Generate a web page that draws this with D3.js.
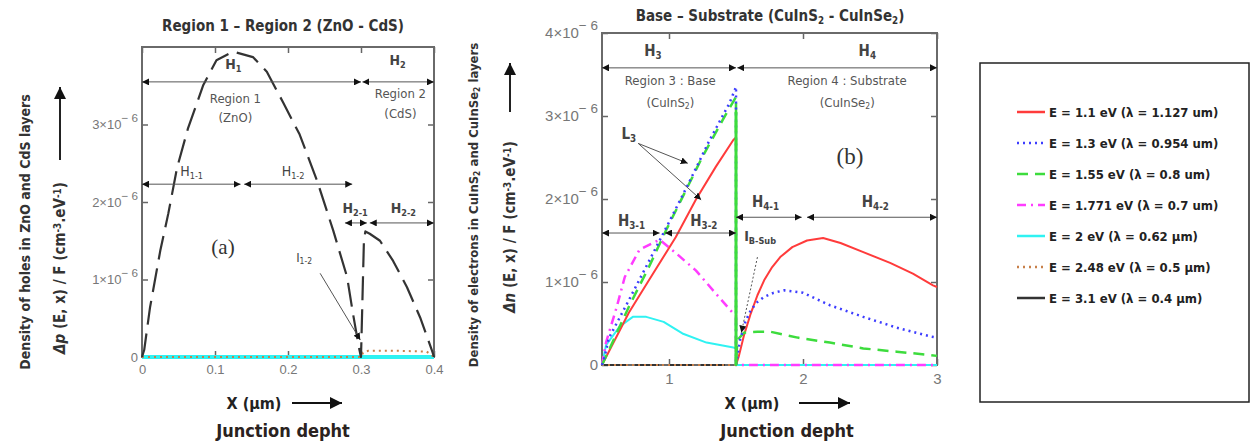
<!DOCTYPE html>
<html>
<head>
<meta charset="utf-8">
<script src="https://cdn.jsdelivr.net/npm/d3@7"></script>
<style>
  body { margin:0; background:#fff; }
  svg { display:block; }
</style>
</head>
<body>
<div id="chart"></div>
<script>
////////////////////////////////////////
// data (densities in units of 1e-6 cm^-3.eV^-1, x in um)
////////////////////////////////////////

var seriesNames = ['E = 1.1 eV (λ = 1.127 um)', 'E = 1.3 eV (λ = 0.954 um)', 'E = 1.55 eV (λ = 0.8 um)',
	'E = 1.771 eV (λ = 0.7 um)', 'E = 2 eV (λ = 0.62 µm)', 'E = 2.48 eV (λ = 0.5 µm)', 'E = 3.1 eV (λ = 0.4 µm)'];

// panel (a) ZnO - CdS
var aZeroX = [0, 0.4];
var aZeroY = [0, 0];
var aBrownX = [0, 0.300, 0.303, 0.310, 0.350, 0.390, 0.400];
var aBrownY = [0, 0, 0.06, 0.08, 0.08, 0.07, 0];
var aBlackX = [0, 0.003, 0.011, 0.025, 0.036, 0.048, 0.063, 0.084, 0.102, 0.125, 0.152, 0.171, 0.193, 0.216,
	0.240, 0.262, 0.281, 0.289, 0.297, 0.300, 0.304, 0.306, 0.312, 0.326, 0.344, 0.363, 0.381, 0.397, 0.400];
var aBlackY = [0, 0.09, 0.64, 1.37, 1.85, 2.44, 2.95, 3.51, 3.83, 3.94, 3.87, 3.68, 3.29, 2.87,
	2.27, 1.63, 1.03, 0.56, 0.13, 0, 1.50, 1.62, 1.59, 1.50, 1.24, 0.90, 0.51, 0.09, 0];

// panel (b) CuInS2 - CuInSe2
var bRedX = [0.5, 0.70, 0.85, 1.05, 1.20, 1.35, 1.48, 1.5, 1.5, 1.52, 1.56, 1.61, 1.66, 1.71, 1.77, 1.83, 1.92, 2.03, 2.15, 2.28, 2.45, 2.65, 2.82, 2.97, 3.0];
var bRedY = [0, 0.63, 1.02, 1.54, 1.99, 2.39, 2.71, 2.74, 0, 0.10, 0.36, 0.62, 0.84, 1.02, 1.18, 1.30, 1.42, 1.50, 1.53, 1.47, 1.36, 1.23, 1.10, 0.96, 0.94];
var bBlueX = [0.5, 0.52, 0.55, 0.70, 0.85, 1.00, 1.15, 1.30, 1.45, 1.5, 1.5, 1.53, 1.57, 1.61, 1.66, 1.71, 1.78, 1.86, 2.00, 2.20, 2.45, 2.70, 2.96, 3.0];
var bBlueY = [0, 0.10, 0.32, 0.78, 1.25, 1.72, 2.20, 2.70, 3.15, 3.35, 0, 0.30, 0.52, 0.66, 0.76, 0.82, 0.87, 0.90, 0.87, 0.72, 0.58, 0.45, 0.34, 0.33];
var bGreenX = [0.5, 0.70, 0.85, 0.98, 1.10, 1.25, 1.40, 1.5, 1.5, 1.51, 1.56, 1.66, 1.76, 1.96, 2.20, 2.45, 2.70, 2.95, 3.0];
var bGreenY = [0, 0.70, 1.18, 1.63, 2.02, 2.51, 2.95, 3.23, 0, 0.30, 0.39, 0.40, 0.40, 0.33, 0.27, 0.20, 0.16, 0.12, 0.11];
var bGreenStepY = [0, 3.05];
var bMagentaX = [0.5, 0.53, 0.61, 0.67, 0.78, 0.93, 1.05, 1.20, 1.35, 1.48, 1.5, 1.5, 3.0];
var bMagentaY = [0, 0.27, 0.70, 1.06, 1.39, 1.51, 1.35, 1.14, 0.86, 0.62, 0.60, 0, 0];
var bCyanX = [0.5, 0.53, 0.63, 0.73, 0.83, 0.96, 1.10, 1.28, 1.48, 1.5, 1.5, 3.0];
var bCyanY = [0, 0.24, 0.46, 0.58, 0.58, 0.52, 0.38, 0.27, 0.21, 0.20, 0, 0];
var bZeroX = [0.5, 3.0];
var bZeroY = [0, 0];

var aXTicks = [0, 0.1, 0.2, 0.3, 0.4];
var aYTicks = [0, 1, 2, 3];
var bXTicks = [1, 2, 3];
var bYTicks = [0, 1, 2, 3, 4];

////////////////////////////////////////
// styles
////////////////////////////////////////

var NARROW = "'Liberation Sans Narrow','DejaVu Sans Condensed','Arial Narrow',sans-serif";
var colors = ['#ff3b3b', '#3d3dff', '#3ddc3d', '#ff3cff', '#2ff2f2', '#c8804a', '#333333'];
var dashes = ['none', '2,4', '11,7', '9,5,2,5', 'none', '2,4', '24,9'];

var W = 1252, H = 443;
var svg = d3.select('#chart').append('svg').attr('width', W).attr('height', H)
	.style('font-family', NARROW);

var defs = svg.append('defs');
defs.append('marker').attr('id', 'arr')
	.attr('viewBox', '0 0 10 10').attr('refX', 10).attr('refY', 5)
	.attr('markerWidth', 7).attr('markerHeight', 7)
	.attr('markerUnits', 'userSpaceOnUse')
	.attr('orient', 'auto-start-reverse')
	.append('path').attr('d', 'M0,0L10,5L0,10z').attr('fill', '#111');
defs.append('marker').attr('id', 'arrBig')
	.attr('viewBox', '0 0 10 10').attr('refX', 10).attr('refY', 5)
	.attr('markerWidth', 12).attr('markerHeight', 12)
	.attr('markerUnits', 'userSpaceOnUse')
	.attr('orient', 'auto-start-reverse')
	.append('path').attr('d', 'M0,0L10,5L0,10z').attr('fill', '#111');

////////////////////////////////////////
// helpers
////////////////////////////////////////

function subText(g, x, y, parts, opt){
	// parts: [[text, 'sub'|'sup'|'it'|null], ...]
	var t = g.append('text').attr('x', x).attr('y', y)
		.attr('text-anchor', opt.anchor || 'middle')
		.attr('font-size', opt.size || 13)
		.attr('font-weight', opt.weight || 'normal')
		.attr('fill', opt.color || '#333');
	if (opt.transform) t.attr('transform', opt.transform);
	parts.forEach(function(p){
		var s = t.append('tspan').text(p[0]);
		if (p[1] == 'sub') s.attr('baseline-shift', '-30%').attr('font-size', (opt.size || 13) * 0.65);
		if (p[1] == 'sup') s.attr('baseline-shift', '45%').attr('font-size', (opt.size || 13) * 0.65);
		if (p[1] == 'it') s.attr('font-style', 'italic');
	});
	return t;
}

function makePanel(box, xDomain, yDomain, xTicks, yTicks, xFmt, tickFont){
	var x = d3.scaleLinear().domain(xDomain).range([box.x0, box.x1]);
	var y = d3.scaleLinear().domain(yDomain).range([box.y1, box.y0]);
	var g = svg.append('g');

	var axes = [
		[d3.axisBottom(x).tickValues(xTicks).tickSize(-6).tickPadding(8).tickFormat(xFmt), 'translate(0,' + box.y1 + ')', true],
		[d3.axisTop(x).tickValues(xTicks).tickSize(-6).tickFormat(''), 'translate(0,' + box.y0 + ')', false],
		[d3.axisLeft(y).tickValues(yTicks).tickSize(-6).tickPadding(4), 'translate(' + box.x0 + ',0)', true],
		[d3.axisRight(y).tickValues(yTicks).tickSize(-6).tickFormat(''), 'translate(' + box.x1 + ',0)', false]
	];
	axes.forEach(function(a, i){
		var ag = g.append('g').attr('transform', a[1]).call(a[0]);
		ag.select('.domain').remove();
		ag.selectAll('.tick line').attr('stroke', '#666').attr('stroke-width', 1.5);
		ag.selectAll('text').attr('fill', '#777').attr('font-family', "'Liberation Sans',sans-serif")
			.attr('font-size', tickFont);
		if (i == 2){
			ag.selectAll('.tick text').each(function(d){
				var t = d3.select(this);
				t.text('');
				if (d === 0){ t.text('0'); return; }
				t.append('tspan').text(d + '×10');
				t.append('tspan').attr('baseline-shift', '55%').attr('font-size', tickFont * 0.9).text('− 6');
			});
		}
	});
	g.append('rect').attr('x', box.x0).attr('y', box.y0)
		.attr('width', box.x1 - box.x0).attr('height', box.y1 - box.y0)
		.attr('fill', 'none').attr('stroke', '#6a6a6a').attr('stroke-width', 2);
	return {x: x, y: y, g: g};
}

function drawSeries(p, xs, ys, idx, width, dash){
	var pts = xs.map(function(v, i){ return [v, ys[i]]; });
	p.g.append('path').datum(pts)
		.attr('d', d3.line().x(function(d){ return p.x(d[0]); }).y(function(d){ return p.y(d[1]); }))
		.attr('fill', 'none')
		.attr('stroke', colors[idx])
		.attr('stroke-width', width || 2)
		.attr('stroke-linejoin', 'round')
		.attr('stroke-dasharray', dash || dashes[idx]);
}

function hArrow(p, xa, xb, yv){
	p.g.append('line')
		.attr('x1', p.x(xa)).attr('x2', p.x(xb)).attr('y1', p.y(yv)).attr('y2', p.y(yv))
		.attr('stroke', '#555').attr('stroke-width', 1)
		.attr('marker-start', 'url(#arr)').attr('marker-end', 'url(#arr)');
}

function pointer(p, xa, ya, xb, yb, dash){
	p.g.append('line')
		.attr('x1', p.x(xa)).attr('x2', p.x(xb)).attr('y1', p.y(ya)).attr('y2', p.y(yb))
		.attr('stroke', '#555').attr('stroke-width', 1)
		.attr('stroke-dasharray', dash || 'none')
		.attr('marker-end', 'url(#arr)');
}

function label(p, xv, yv, parts, opt){
	return subText(p.g, p.x(xv), p.y(yv), parts, opt);
}

function axisTitles(xLabelX, arrowX0, arrowX1, jx){
	subText(svg, xLabelX, 409, [['X (µm)']], {size: 16, weight: 'bold', color: '#222'});
	svg.append('line').attr('x1', arrowX0).attr('x2', arrowX1).attr('y1', 403).attr('y2', 403)
		.attr('stroke', '#111').attr('stroke-width', 2).attr('marker-end', 'url(#arrBig)');
	subText(svg, jx, 437, [['Junction depht']], {size: 18, weight: 'bold', color: '#2a2220'});
}

function yTitles(x1, c1, s1, line1, x2, c2, line2, ay0, ay1){
	subText(svg, 0, 0, line1, {size: s1, weight: 'bold', color: '#333',
		transform: 'translate(' + x1 + ',' + c1 + ') rotate(-90)'}).attr('dy', '0.35em');
	subText(svg, 0, 0, line2, {size: 15, weight: 'bold', color: '#333',
		transform: 'translate(' + x2 + ',' + c2 + ') rotate(-90)'}).attr('dy', '0.35em');
	svg.append('line').attr('x1', x2).attr('x2', x2).attr('y1', ay1).attr('y2', ay0)
		.attr('stroke', '#222').attr('stroke-width', 2).attr('marker-end', 'url(#arrBig)');
}

////////////////////////////////////////
// panel (a)
////////////////////////////////////////

var pa = makePanel({x0: 142, x1: 434, y0: 47, y1: 357}, [0, 0.4], [0, 4], aXTicks, aYTicks,
	function(d){ return d === 0 ? '0' : d3.format('.1f')(d); }, 13);

[0, 1, 2, 3].forEach(function(i){ drawSeries(pa, aZeroX, aZeroY, i, 2); });
drawSeries(pa, aZeroX, aZeroY, 4, 4);
drawSeries(pa, aBrownX, aBrownY, 5, 2);
drawSeries(pa, aBlackX, aBlackY, 6, 2.2);

subText(svg, 283, 31, [['Region 1 – Region 2 (ZnO - CdS)']], {size: 15, weight: 'bold', color: '#333'});

hArrow(pa, 0, 0.3, 3.55);
hArrow(pa, 0.302, 0.4, 3.55);
label(pa, 0.125, 3.72, [['H'], ['1', 'sub']], {size: 14, weight: 'bold', color: '#444'});
label(pa, 0.35, 3.77, [['H'], ['2', 'sub']], {size: 14, weight: 'bold', color: '#444'});
label(pa, 0.128, 3.28, [['Region 1']], {size: 13, color: '#555'});
label(pa, 0.128, 3.03, [['(ZnO)']], {size: 13, color: '#555'});
label(pa, 0.354, 3.34, [['Region 2']], {size: 13, color: '#555'});
label(pa, 0.354, 3.08, [['(CdS)']], {size: 13, color: '#555'});

hArrow(pa, 0, 0.135, 2.23);
hArrow(pa, 0.14, 0.288, 2.23);
label(pa, 0.068, 2.33, [['H'], ['1-1', 'sub']], {size: 14, color: '#444'});
label(pa, 0.207, 2.33, [['H'], ['1-2', 'sub']], {size: 14, color: '#444'});
hArrow(pa, 0.278, 0.308, 1.73);
hArrow(pa, 0.312, 0.4, 1.73);
label(pa, 0.292, 1.86, [['H'], ['2-1', 'sub']], {size: 14, weight: 'bold', color: '#444'});
label(pa, 0.358, 1.86, [['H'], ['2-2', 'sub']], {size: 14, weight: 'bold', color: '#444'});

label(pa, 0.111, 1.33, [['(a)']], {size: 21, color: '#333'}).attr('font-family', "'Liberation Serif',serif");
label(pa, 0.222, 1.22, [['I'], ['1-2', 'sub']], {size: 13, color: '#444'});
pointer(pa, 0.244, 1.08, 0.299, 0.22);

yTitles(25, 232, 14, [['Density of holes in ZnO and CdS layers']],
	60, 268, [['Δp', 'it'], [' (E, x) / F (cm'], ['-3', 'sup'], ['.eV'], ['-1', 'sup'], [')']], 87, 160);
axisTitles(254, 292, 342, 283);

////////////////////////////////////////
// panel (b)
////////////////////////////////////////

var pb = makePanel({x0: 602, x1: 937, y0: 33, y1: 365}, [0.5, 3], [0, 4], bXTicks, bYTicks,
	d3.format('d'), 15);

drawSeries(pb, bZeroX, bZeroY, 6, 2);
drawSeries(pb, bZeroX, bZeroY, 5, 2);
drawSeries(pb, bCyanX, bCyanY, 4, 2);
drawSeries(pb, bMagentaX, bMagentaY, 3, 2.5);
drawSeries(pb, bRedX, bRedY, 0, 2);
drawSeries(pb, bGreenX, bGreenY, 2, 2.5);
drawSeries(pb, bBlueX, bBlueY, 1, 2.5);
drawSeries(pb, [1.5, 1.5], bGreenStepY, 2, 3, 'none');

subText(svg, 770, 21, [['Base – Substrate (CuInS'], ['2', 'sub'], [' - CuInSe'], ['2', 'sub'], [')']],
	{size: 15, weight: 'bold', color: '#333'});

hArrow(pb, 0.5, 1.5, 3.58);
hArrow(pb, 1.51, 3.0, 3.58);
label(pb, 0.88, 3.72, [['H'], ['3', 'sub']], {size: 15, weight: 'bold', color: '#444'});
label(pb, 2.48, 3.72, [['H'], ['4', 'sub']], {size: 15, weight: 'bold', color: '#444'});
label(pb, 1.01, 3.37, [['Region 3 : Base']], {size: 13, color: '#555'});
label(pb, 1.01, 3.11, [['(CuInS'], ['2', 'sub'], [')']], {size: 13, color: '#555'});
label(pb, 2.33, 3.37, [['Region 4 : Substrate']], {size: 13, color: '#555'});
label(pb, 2.33, 3.11, [['(CuInSe'], ['2', 'sub'], [')']], {size: 13, color: '#555'});

label(pb, 0.70, 2.72, [['L'], ['3', 'sub']], {size: 15, weight: 'bold', color: '#444'});
pointer(pb, 0.77, 2.67, 1.14, 2.43);
pointer(pb, 0.77, 2.67, 1.24, 1.99);
label(pb, 2.35, 2.42, [['(b)']], {size: 23, color: '#333'}).attr('font-family', "'Liberation Serif',serif");

hArrow(pb, 0.5, 0.93, 1.59);
hArrow(pb, 0.97, 1.5, 1.59);
label(pb, 0.72, 1.68, [['H'], ['3-1', 'sub']], {size: 15, weight: 'bold', color: '#444'});
label(pb, 1.26, 1.68, [['H'], ['3-2', 'sub']], {size: 15, weight: 'bold', color: '#444'});
hArrow(pb, 1.5, 1.99, 1.78);
hArrow(pb, 2.03, 3.0, 1.78);
label(pb, 1.72, 1.9, [['H'], ['4-1', 'sub']], {size: 15, weight: 'bold', color: '#444'});
label(pb, 2.54, 1.9, [['H'], ['4-2', 'sub']], {size: 15, weight: 'bold', color: '#444'});

label(pb, 1.68, 1.5, [['I'], ['B-Sub', 'sub']], {size: 14, weight: 'bold', color: '#444'});
pointer(pb, 1.66, 1.30, 1.54, 0.39, '2,2');

yTitles(473, 205, 13, [['Density of electrons in CuInS'], ['2', 'sub'], [' and CuInSe'], ['2', 'sub'], [' layers']],
	510, 227, [['Δn', 'it'], [' (E, x) / F (cm'], ['-3', 'sup'], ['.eV'], ['-1', 'sup'], [')']], 63, 112);
axisTitles(752, 799, 850, 787);

////////////////////////////////////////
// legend
////////////////////////////////////////

var legend = svg.append('g');
legend.append('rect').attr('x', 980).attr('y', 63).attr('width', 269).attr('height', 339)
	.attr('fill', '#fff').attr('stroke', '#222').attr('stroke-width', 1.5);
seriesNames.forEach(function(name, i){
	var ly = 112 + i * 31;
	legend.append('line').attr('x1', 1017).attr('x2', 1045).attr('y1', ly).attr('y2', ly)
		.attr('stroke', colors[i]).attr('stroke-width', 2.5)
		.attr('stroke-dasharray', i == 6 ? 'none' : dashes[i]);
	legend.append('text').attr('x', 1049).attr('y', ly).attr('dy', '0.35em')
		.attr('font-size', 13).attr('font-weight', 'bold').attr('fill', '#222')
		.text(name);
});
</script>
</body>
</html>
